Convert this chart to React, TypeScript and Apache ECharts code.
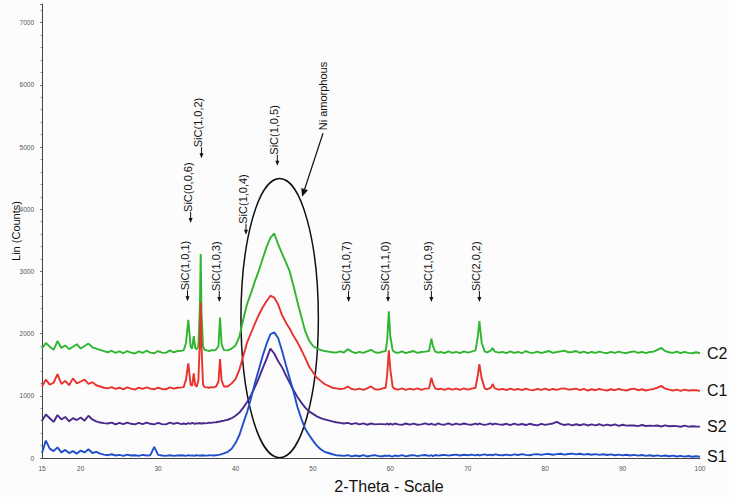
import React, { useEffect, useRef } from "react";
import * as echarts from "echarts";

// 2-theta sampling (degrees)
const twoTheta = [
  15, 15.5, 16, 16.5, 17, 17.5, 18, 18.5, 19, 19.5, 20, 20.5, 21, 21.5, 22, 22.5, 23, 23.5, 24, 24.5, 25, 25.5, 26, 26.5, 27, 27.5, 28, 28.5, 29, 29.5, 30, 30.5, 31, 31.5, 32, 32.5, 33,
  33.3, 33.6, 33.9, 34.2, 34.4, 34.6, 34.8, 35.0, 35.2, 35.4, 35.5, 35.6, 35.8, 36.0, 36.3, 36.6, 36.9, 37.2, 37.5, 37.8, 38.0, 38.2, 38.5, 39.0,
  39.5, 40, 40.5, 41, 41.5, 42, 42.5, 43, 43.5, 44, 44.5, 45, 45.5, 46, 46.5, 47, 47.5, 48, 48.5, 49, 49.5, 50, 50.5, 51, 51.5, 52, 52.5, 53, 53.5, 54, 54.5, 55, 55.5, 56, 56.5, 57, 57.5, 58, 58.5, 59,
  59.4, 59.6, 59.8, 60.0, 60.3, 60.6,
  61, 61.5, 62, 62.5, 63, 63.5, 64, 64.5,
  65.0, 65.3, 65.5, 65.8, 66.2,
  66.5, 67, 67.5, 68, 68.5, 69, 69.5, 70, 70.5,
  71.0, 71.3, 71.5, 71.8, 72.2,
  72.5, 73.0, 73.2, 73.5, 74.0,
  74.5, 75, 75.5, 76, 76.5, 77, 77.5, 78, 78.5, 79, 79.5, 80, 80.5, 81, 81.5, 82, 82.5, 83, 83.5, 84, 84.5, 85, 85.5, 86, 86.5, 87, 87.5, 88, 88.5, 89, 89.5, 90, 90.5, 91, 91.5, 92, 92.5, 93, 93.5, 94, 94.5, 95, 95.5, 96, 96.5, 97, 97.5, 98, 98.5, 99, 99.5, 100,
];

const seriesNames = ["C2", "C1", "S2", "S1"];

const C2 = [
  1760, 1850, 1790, 1740, 1880, 1770, 1810, 1750, 1790, 1830, 1760, 1800, 1840, 1780, 1760, 1740, 1720, 1700, 1725, 1690, 1715, 1685, 1720, 1695, 1680, 1715, 1690, 1725, 1695, 1685, 1720, 1695, 1690, 1730, 1700, 1720, 1725,
  1730, 1850, 2220, 1790, 1760, 1960, 1770, 1750, 1800, 2450, 3280, 2350, 1790, 1740, 1730, 1720, 1735, 1730, 1745, 1800, 2260, 1830, 1735, 1730,
  1760, 1810, 1950, 2230, 2480, 2650, 2840, 3010, 3200, 3390, 3540, 3610, 3440, 3290, 3150, 3000, 2760, 2510, 2270, 2040, 1890, 1800, 1760, 1740, 1720, 1710, 1700, 1695, 1715, 1695, 1750, 1710, 1685, 1705, 1690, 1715, 1740, 1700, 1690, 1710,
  1720, 1900, 2360, 1950, 1730, 1700,
  1690, 1715, 1685, 1705, 1720, 1690, 1705, 1710,
  1720, 1920, 1800, 1710, 1695,
  1705, 1685, 1715, 1690, 1705, 1685, 1715, 1695, 1710,
  1730, 1950, 2200, 1850, 1710,
  1700, 1730, 1770, 1710, 1695,
  1705, 1685, 1715, 1690, 1705, 1685, 1720, 1695, 1690, 1710,
  1685, 1705, 1720, 1690, 1705, 1715, 1725, 1700, 1705, 1720,
  1690, 1710, 1685, 1705, 1690, 1710, 1695, 1685, 1705, 1690,
  1710, 1695, 1685, 1705, 1715, 1690, 1705, 1685, 1705, 1710,
  1740, 1770, 1720, 1700, 1690, 1710, 1685, 1705, 1690, 1685,
  1700, 1685,
];

const C1 = [
  1150, 1260, 1180, 1210, 1350, 1190, 1240, 1170, 1280, 1200, 1230, 1260, 1190, 1220, 1170, 1150, 1130, 1120, 1140, 1110, 1130, 1105, 1135, 1115, 1100, 1130, 1110, 1135, 1115, 1105, 1130, 1110, 1105, 1135, 1115, 1130, 1135,
  1140, 1260, 1520, 1180, 1160, 1360, 1170, 1150, 1250, 1900, 2500, 1800, 1180, 1140, 1135, 1130, 1140, 1135, 1150, 1230, 1590, 1250, 1150, 1150,
  1200, 1270, 1420, 1640, 1860, 2010, 2160, 2300, 2420, 2520, 2610, 2580, 2470, 2300, 2180, 2080, 1960, 1860, 1740, 1610, 1470, 1380, 1290, 1240, 1190, 1160, 1130, 1120, 1110, 1115, 1150, 1110, 1100, 1115, 1095, 1120, 1150, 1105, 1100, 1120,
  1130, 1350, 1730, 1420, 1140, 1110,
  1100, 1120, 1095, 1115, 1100, 1120, 1095, 1115,
  1120, 1290, 1200, 1115, 1105,
  1115, 1095, 1120, 1100, 1115, 1095, 1120, 1100, 1115,
  1130, 1330, 1510, 1280, 1115,
  1105, 1130, 1190, 1120, 1100,
  1110, 1090, 1115, 1095, 1110, 1090, 1115, 1095, 1090, 1110,
  1095, 1115, 1090, 1110, 1095, 1115, 1120, 1100, 1105, 1115,
  1090, 1110, 1085, 1105, 1090, 1110, 1095, 1085, 1105, 1090,
  1110, 1095, 1085, 1105, 1115, 1090, 1105, 1085, 1100, 1110,
  1130, 1160, 1115, 1100, 1085, 1100, 1080, 1100, 1085, 1090,
  1090, 1080,
];

const S2 = [
  600, 700, 640, 580, 690, 620, 660, 590, 640, 610, 650, 600, 680, 620, 590, 570, 560, 555, 570, 540, 565, 545, 570, 550, 540, 565, 545, 570, 550, 540, 565, 545, 540, 570, 550, 565, 545,
  555, 545, 560, 550, 565, 555, 548, 560, 552, 565, 558, 550, 562, 556, 560, 568, 565, 572, 575, 582, 585, 595, 600, 615,
  640, 680, 730, 810, 900, 1010, 1140, 1280, 1440, 1590, 1760, 1680, 1560, 1460, 1330, 1210, 1090, 980, 890, 810, 750, 710, 670, 640, 620, 605, 590, 575, 565, 555, 565, 545, 560, 540, 557, 535, 555, 540, 545, 545,
  540, 555, 535, 553, 537, 555,
  540, 533, 555, 537, 553, 535, 540, 557,
  535, 553, 540, 533, 555,
  540, 535, 557, 533, 553, 537, 555, 540, 535,
  553, 537, 555, 540, 533,
  540, 557, 535, 553, 540,
  535, 550, 530, 553, 533, 547, 530, 550, 535, 525,
  550, 533, 545, 555, 580, 550, 530, 545, 525, 543,
  527, 545, 523, 540, 525, 543, 520, 537, 523, 540,
  517, 535, 520, 525, 523, 513, 530, 515, 520, 517,
  523, 507, 525, 510, 515, 513, 503, 520, 505, 510,
  507, 505,
];

const S1 = [
  80, 280, 150, 110, 170, 90, 130, 80, 110, 70, 120, 90, 140, 80, 100, 70, 55, 45, 60, 40, 50, 35, 55, 40, 45, 35, 50, 40, 45, 180, 50, 40, 35, 45, 35, 40, 45,
  40, 35, 45, 38, 42, 35, 40, 45, 38, 42, 40, 36, 44, 40, 38, 45, 42, 40, 45, 50, 55, 62, 75, 100,
  150, 240, 370, 560, 740, 960, 1200, 1420, 1640, 1830, 1990, 2020, 1930, 1730, 1500, 1280, 1060, 820, 630, 470, 370, 280, 200, 140, 100, 80, 60, 45, 40, 35, 45, 25, 40, 28, 45, 25, 38, 45, 30, 28,
  40, 28, 45, 30, 25, 40,
  30, 45, 25, 40, 45, 30, 42, 48,
  35, 45, 30, 48, 38,
  45, 50, 38, 48, 55, 40, 52, 45, 55,
  42, 55, 40, 50, 58,
  45, 55, 42, 58, 48,
  45, 55, 42, 58, 48, 62, 50, 45, 58, 62,
  50, 62, 65, 52, 62, 68, 55, 65, 70, 58,
  68, 55, 65, 52, 62, 50, 60, 48, 58, 45,
  55, 42, 52, 40, 50, 38, 48, 35, 45, 32,
  42, 30, 40, 28, 38, 25, 35, 22, 32, 20,
  28, 20,
];

const xTickLabels = [15, 20, 30, 40, 50, 60, 70, 80, 90, 100];

// Reflection annotations: label, 2-theta of the arrow, count at the arrow tip
const annotationLabels = ["SiC(1,0,1)", "SiC(0,0,6)", "SiC(1,0,2)", "SiC(1,0,3)", "SiC(1,0,4)", "SiC(1,0,5)", "SiC(1,0,7)", "SiC(1,1,0)", "SiC(1,0,9)", "SiC(2,0,2)"];
const annotationTheta = [33.8, 34.2, 35.6, 37.9, 41.35, 45.4, 54.6, 59.7, 65.3, 71.5];
const annotationTip = [2520, 3780, 4820, 2510, 3590, 4700, 2510, 2510, 2510, 2510];

const FONT = 'Arial, "Liberation Sans", sans-serif';
const colors = ["#2fb52f", "#e8322c", "#4a2a8c", "#1f4fc8"];

export default function App() {
  const ref = useRef<HTMLDivElement>(null);

  useEffect(() => {
    if (!ref.current) return;
    const chart = echarts.init(ref.current, null, { renderer: "svg" });
    const allData = [C2, C1, S2, S1];
    const option: any = {
      animation: false,
      backgroundColor: "#fcfcfc",
      grid: { left: 42, right: 29, top: 4, bottom: 39, containLabel: false, outerBoundsMode: "none" },
      xAxis: {
        type: "value",
        min: 15,
        max: 100,
        interval: 5,
        name: "2-Theta - Scale",
        nameLocation: "middle",
        nameGap: 20,
        nameTextStyle: { fontFamily: FONT, fontSize: 16, color: "#111", padding: [0, 0, 0, 36] },
        axisLine: { lineStyle: { color: "#444", width: 1 } },
        axisTick: { show: false },
        splitLine: { show: false },
        axisLabel: {
          fontFamily: FONT,
          fontSize: 6.5,
          color: "#555",
          margin: 7,
          formatter: (v: number) => (xTickLabels.indexOf(v) >= 0 ? String(v) : ""),
        },
      },
      yAxis: {
        type: "value",
        min: 0,
        max: 7300,
        interval: 1000,
        name: "Lin (Counts)",
        nameLocation: "middle",
        nameGap: 21,
        nameMoveOverlap: false,
        nameTextStyle: { fontFamily: FONT, fontSize: 11, color: "#111" },
        axisLine: { show: true, lineStyle: { color: "#444", width: 1 } },
        axisTick: { show: true, length: 2, lineStyle: { color: "#777" } },
        minorTick: { show: true, splitNumber: 5, length: 1.5, lineStyle: { color: "#999" } },
        splitLine: { show: false },
        axisLabel: {
          fontFamily: FONT,
          fontSize: 6.5,
          color: "#555",
          margin: 8,
          showMaxLabel: false,
          formatter: (v: number) => String(v),
        },
      },
      series: seriesNames.map((name, k) => ({
        name,
        type: "line",
        showSymbol: false,
        symbol: "none",
        data: twoTheta.map((t, i) => [t, allData[k][i]]),
        lineStyle: { color: colors[k], width: 1.9 },
        endLabel: {
          show: true,
          formatter: "{a}",
          fontFamily: FONT,
          fontSize: 16,
          color: "#111",
          distance: 7,
        },
      })),
    };
    chart.setOption(option);

    const px = (x: number, y: number) => chart.convertToPixel({ gridIndex: 0 }, [x, y]) as number[];
    const g: any[] = [];
    const ink = "#111";
    annotationLabels.forEach((label, i) => {
      const [ax, ay] = px(annotationTheta[i], annotationTip[i]);
      g.push({ type: "line", shape: { x1: ax, y1: ay - 11, x2: ax, y2: ay - 3 }, style: { stroke: ink, lineWidth: 1 } });
      g.push({ type: "polygon", shape: { points: [[ax - 2, ay - 5], [ax + 2, ay - 5], [ax, ay]] }, style: { fill: ink } });
      g.push({
        type: "text",
        x: ax - 3,
        y: ay - 11,
        rotation: Math.PI / 2,
        style: { text: label, fontSize: 11, fontFamily: FONT, fill: ink, textAlign: "left", textVerticalAlign: "middle", align: "left", verticalAlign: "middle" },
      });
    });

    // ellipse around the amorphous Ni hump
    const [ecx, ecy] = px(45.7, 2250);
    const [erx] = px(50.7, 2250);
    const [, ery] = px(45.7, 4495);
    g.push({
      type: "ellipse",
      shape: { cx: ecx, cy: ecy, rx: erx - ecx, ry: ecy - ery },
      style: { fill: "none", stroke: ink, lineWidth: 1.5 },
    });

    // "Ni amorphous" label with arrow
    const [tx, ty] = px(51.3, 5270);
    const [hx, hy] = px(48.6, 4200);
    g.push({
      type: "text",
      x: tx,
      y: ty,
      rotation: Math.PI / 2,
      style: { text: "Ni amorphous", fontSize: 11, fontFamily: FONT, fill: ink, textAlign: "left", textVerticalAlign: "middle", align: "left", verticalAlign: "middle" },
    });
    const dx = hx - tx;
    const dy = hy - (ty + 3);
    const len = Math.sqrt(dx * dx + dy * dy);
    const ux = dx / len;
    const uy = dy / len;
    const bx = hx - ux * 8;
    const by = hy - uy * 8;
    g.push({ type: "line", shape: { x1: tx, y1: ty + 3, x2: bx, y2: by }, style: { stroke: ink, lineWidth: 1.2 } });
    g.push({
      type: "polygon",
      shape: { points: [[hx, hy], [bx - uy * 3.5, by + ux * 3.5], [bx + uy * 3.5, by - ux * 3.5]] },
      style: { fill: ink },
    });

    chart.setOption({ graphic: g });
    return () => chart.dispose();
  }, []);

  return (
    <div
      ref={ref}
      style={{ position: "absolute", left: 0, top: 0, width: 729, height: 497 }}
    />
  );
}
